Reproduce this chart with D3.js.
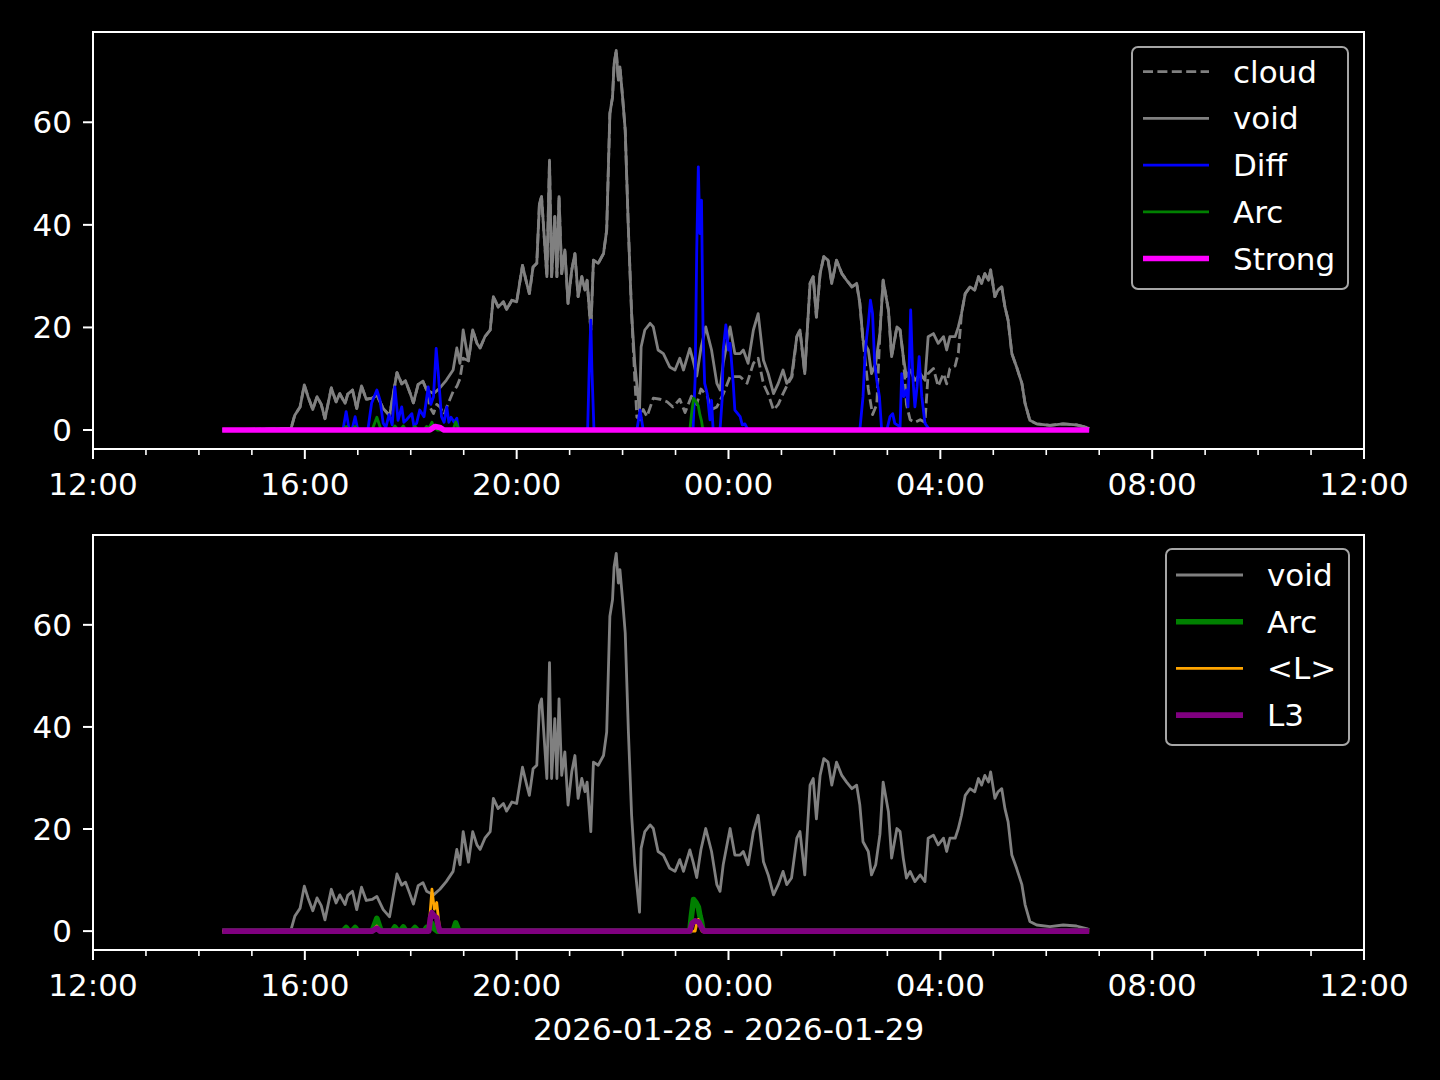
<!DOCTYPE html>
<html><head><meta charset="utf-8">
<script src="https://cdn.jsdelivr.net/npm/d3@7"></script>
<style>html,body{margin:0;padding:0;background:#000;} svg{display:block;}</style>
</head><body>
<svg id="chart" width="1440" height="1080"></svg>
<script>
// time in hours after 00:00 on 2026-01-28 (values > 24 are on 2026-01-29)
const voidT = [14.44,15.74,15.81,15.91,15.99,16.06,16.15,16.23,16.31,16.38,16.50,16.59,16.66,16.76,16.81,16.90,16.98,17.07,17.16,17.27,17.36,17.48,17.60,17.74,17.83,17.90,17.99,18.05,18.14,18.23,18.30,18.43,18.55,18.67,18.80,18.87,18.93,18.99,19.09,19.17,19.25,19.31,19.40,19.50,19.56,19.65,19.75,19.81,19.91,20.00,20.11,20.19,20.24,20.31,20.38,20.43,20.47,20.52,20.57,20.62,20.66,20.72,20.76,20.80,20.85,20.91,20.97,21.04,21.10,21.16,21.23,21.29,21.33,21.40,21.45,21.54,21.64,21.70,21.76,21.81,21.84,21.88,21.92,21.95,22.00,22.05,22.11,22.17,22.23,22.32,22.35,22.42,22.52,22.58,22.67,22.77,22.89,22.99,23.08,23.15,23.27,23.34,23.40,23.48,23.57,23.68,23.78,23.84,23.90,24.03,24.12,24.22,24.28,24.37,24.47,24.56,24.66,24.75,24.85,24.94,25.03,25.10,25.19,25.29,25.35,25.44,25.54,25.60,25.66,25.73,25.80,25.88,25.95,26.04,26.14,26.23,26.33,26.42,26.48,26.54,26.64,26.70,26.78,26.86,26.92,27.02,27.08,27.18,27.24,27.30,27.36,27.43,27.52,27.62,27.71,27.77,27.87,27.96,28.06,28.12,28.18,28.28,28.34,28.40,28.47,28.56,28.65,28.72,28.78,28.84,28.91,28.95,29.03,29.09,29.16,29.22,29.28,29.35,29.44,29.54,29.60,29.69,29.82,30.07,30.32,30.57,30.76,30.81];
const voidV = [0,0.3,2.9,4.5,8.8,6.5,4.0,6.5,5.0,2.2,8.2,5.5,7.1,5.2,7.0,7.8,4.2,8.6,6.0,6.2,6.8,4.2,2.8,11.2,9.0,9.6,7.1,5.3,8.9,9.5,7.8,7.1,8.2,9.7,11.7,16.0,13.0,19.5,13.5,19.5,16.9,16.0,18.2,19.5,26,24,25,23.5,25.3,25,32.1,28.6,26.6,31.8,32.5,44.2,45.5,37.7,29.9,52.6,29.9,41.6,29.9,45.5,30.5,35.1,24.7,31.2,34.4,26,29.9,27.3,29.2,19.5,33.1,32.5,34.4,39,61.7,64.9,71.4,74,68.2,70.8,64.9,58.4,39,22.8,13,3.7,16.2,19.5,20.8,20.1,15.6,14.9,12.3,11.7,14,11.7,15.9,13.2,10.5,16,20.1,15.6,9.1,7.8,13,20.1,14.9,14.9,15.6,13,19.5,22.7,13.6,11,7.1,9.1,11.7,9.1,10.4,18.2,19.5,11,28.6,29.9,22,30.5,33.8,33.1,28.6,33.1,30.5,29.2,27.9,28.6,24.7,17.5,15.6,11,13,19,29.2,23.4,14.3,20.1,19.5,14.3,10.4,11.7,9.7,11,9.7,18.2,18.8,16.9,18.2,15.6,18.2,18.2,20.1,22.7,26.6,27.9,27.3,29.9,28.6,30.5,29.2,31.2,26,27.3,27.9,24,21.4,14.9,12.3,9.1,5.2,1.9,1.2,0.9,1.2,1.0,0.5,0.3];

const cloudT = [14.44,15.74,15.81,15.91,15.99,16.06,16.15,16.23,16.31,16.38,16.50,16.59,16.66,16.76,16.81,16.90,16.98,17.07,17.16,17.27,17.36,17.48,17.60,17.74,17.83,17.90,17.99,18.05,18.14,18.23,18.30,18.36,18.43,18.49,18.55,18.63,18.68,18.74,18.80,18.87,18.93,18.99,19.09,19.17,19.25,19.31,19.40,19.50,19.56,19.65,19.75,19.81,19.91,20.00,20.11,20.19,20.24,20.31,20.38,20.43,20.47,20.52,20.57,20.62,20.66,20.72,20.76,20.80,20.85,20.91,20.97,21.04,21.10,21.16,21.23,21.29,21.33,21.40,21.45,21.54,21.64,21.70,21.76,21.81,21.84,21.88,21.92,21.95,22.00,22.05,22.11,22.17,22.23,22.27,22.33,22.39,22.46,22.58,22.71,22.84,22.95,23.08,23.18,23.30,23.40,23.48,23.60,23.68,23.78,23.90,24.03,24.22,24.35,24.47,24.56,24.66,24.75,24.85,24.94,25.03,25.12,25.20,25.29,25.35,25.44,25.54,25.60,25.66,25.73,25.80,25.88,25.95,26.04,26.14,26.23,26.33,26.42,26.48,26.54,26.64,26.72,26.80,26.86,26.92,27.02,27.08,27.18,27.24,27.30,27.36,27.43,27.52,27.62,27.71,27.77,27.87,27.96,28.06,28.12,28.18,28.28,28.34,28.40,28.47,28.56,28.65,28.72,28.78,28.84,28.91,28.95,29.03,29.09,29.16,29.22,29.28,29.35,29.44,29.54,29.60,29.69,29.82,30.07,30.32,30.57,30.76,30.81];
const cloudV = [0,0.3,2.9,4.5,8.8,6.5,4.0,6.5,5.0,2.2,8.2,5.5,7.1,5.2,7.0,7.8,4.2,8.6,6.0,6.2,6.8,4.2,2.8,11.2,9.0,9.6,7.1,5.3,8.9,9.5,7.8,4.5,3.2,5.0,4.5,3.0,4.5,6.0,7.5,8.5,10.0,14,13.5,19.5,16.9,16.0,18.2,19.5,26,24,25,23.5,25.3,25,32.1,28.6,26.6,31.8,32.5,44.2,45.5,37.7,29.9,52.6,29.9,41.6,29.9,45.5,30.5,35.1,24.7,31.2,34.4,26,29.9,27.3,29.2,19.5,33.1,32.5,34.4,39,61.7,64.9,71.4,74,68.2,70.8,64.9,58.4,39,22.8,10,2.5,2.0,4.0,2.6,6.2,6.0,5.5,4.5,6.0,3.4,6.6,5,8,6.6,4,4.5,7,10.4,10.4,9.1,13,14,9,7,3.9,5,7.1,9,10.4,18.2,19.5,11,28.6,29.9,22,30.5,33.8,33.1,28.6,33.1,30.5,29.2,27.9,28.6,24.7,17.5,8,3,5,19,29.2,23.4,14.3,20.1,19.5,14.3,5,2,1.5,2,1.5,11,12,8.5,11,9,12,12.5,15,22.7,26.6,27.9,27.3,29.9,28.6,30.5,29.2,31.2,26,27.3,27.9,24,21.4,14.9,12.3,9.1,5.2,1.9,1.2,0.9,1.2,1.0,0.5,0.3];

const diffT = [14.44,16.72,16.78,16.83,16.89,16.95,17.00,17.19,17.26,17.36,17.42,17.48,17.53,17.59,17.65,17.70,17.76,17.83,17.87,17.92,18.02,18.06,18.11,18.17,18.25,18.33,18.38,18.43,18.48,18.52,18.58,18.63,18.68,18.72,18.76,18.82,18.87,18.90,21.34,21.37,21.40,21.42,21.46,22.27,22.33,22.39,23.33,23.37,23.40,23.43,23.46,23.49,23.52,23.55,23.60,23.65,23.68,23.71,23.84,23.88,23.90,23.95,24.00,24.03,24.09,24.12,24.22,24.26,24.31,24.37,26.48,26.54,26.58,26.61,26.64,26.68,26.72,26.76,26.80,26.85,26.89,26.99,27.05,27.10,27.14,27.24,27.27,27.31,27.36,27.39,27.44,27.48,27.52,27.56,27.60,27.65,27.71,27.80,30.81];
const diffV = [0,0,3.6,0.5,0,2.6,0,0,5.2,7.8,5.8,1.3,0.5,3.0,1.0,8.4,1.9,4.5,1.5,2.0,3.2,0.8,1.3,3.9,2.6,8.4,5.0,6.5,15.9,11.0,2.6,1.5,4.5,1.5,2.5,1.5,2.3,0,0,12,21.4,12,0,0,3.9,0,0,10,35,51.3,38.3,44.8,18.8,9.1,7.0,2.0,5.8,0,0,6,15.6,20.5,15.6,16.9,9.0,3.9,2.6,1.0,1.2,0,0,6.5,14.9,18.2,20.8,25.3,22.7,13,9.7,6.5,0.3,0,2.6,3.2,1.3,0.6,11,6.5,7.8,4.5,23.4,10.4,4.5,8.4,14.3,6.5,1.3,0,0];

const arcT = [14.44,16.72,16.78,16.83,16.89,16.95,17.00,17.27,17.36,17.44,17.65,17.70,17.76,17.80,17.86,17.91,18.02,18.08,18.14,18.25,18.30,18.34,18.40,18.44,18.50,18.80,18.85,18.91,23.27,23.30,23.34,23.39,23.43,23.46,23.49,23.51,23.55,30.81];
const arcV = [0,0,0.7,0,0,0.7,0,0,2.5,0,0,0.8,0,0,0.8,0,0,0.7,0,0,0.7,0.3,1.5,0.5,0,0,1.6,0,0,3.0,6.2,5.5,4.7,3.0,1.8,0.5,0,0];

const lT = [14.44,17.27,17.36,17.42,18.34,18.40,18.445,18.49,18.55,23.37,23.40,23.43,23.46,23.50,30.81];
const lV = [0,0,1.0,0,0,8.2,4.3,5.6,0,0,1.5,2.3,1.0,0,0];

const l3T = [14.44,17.27,17.36,17.42,18.34,18.37,18.40,18.44,18.49,18.52,18.55,23.27,23.31,23.37,23.44,23.50,23.54,30.81];
const l3V = [0,0,0.6,0,0,2.5,3.6,3.0,2.6,1.0,0,0,1.5,2.0,1.8,0.5,0,0];

const strongT = [14.44,18.36,18.46,18.55,18.63,30.81];
const strongV = [0,0,0.7,0.5,0,0];

const xTicks = [12,16,20,24,28,32,36];
const xTickLabels = ["12:00","16:00","20:00","00:00","04:00","08:00","12:00"];
const yTicks = [0,20,40,60];
const xLabel = "2026-01-28 - 2026-01-29";

const FONT = "'DejaVu Sans', sans-serif";
const FS = 31;
const svg = d3.select("#chart");
svg.append("rect").attr("width",1440).attr("height",1080).attr("fill","#000");

const L = 93, R = 1364;
const x = d3.scaleLinear().domain([12,36]).range([L,R]);
const minorTicks = d3.range(12,37,1).filter(h => !xTicks.includes(h));

function pts(T,V){ return T.map((t,i)=>[t,V[i]]); }

function panel(top, bottom, series, legendItems, legendBox){
  const y = d3.scaleLinear().domain([-3.7,77.6]).range([bottom, top]);
  const g = svg.append("g");
  const line = d3.line().x(d=>x(d[0])).y(d=>y(d[1]));
  series.forEach(s=>{
    g.append("path").attr("d", line(pts(s.T,s.V)))
      .attr("fill","none").attr("stroke",s.color).attr("stroke-width",s.w)
      .attr("stroke-linejoin","round")
      .attr("stroke-dasharray", s.dash||null);
  });
  g.append("rect").attr("x",L).attr("y",top).attr("width",R-L).attr("height",bottom-top)
    .attr("fill","none").attr("stroke","#fff").attr("stroke-width",2);
  xTicks.forEach((t,i)=>{
    g.append("line").attr("x1",x(t)).attr("x2",x(t)).attr("y1",bottom).attr("y2",bottom+10)
      .attr("stroke","#fff").attr("stroke-width",2);
    g.append("text").attr("x",x(t)).attr("y",bottom+46).attr("text-anchor","middle")
      .attr("fill","#fff").attr("font-family",FONT).attr("font-size",FS).text(xTickLabels[i]);
  });
  minorTicks.forEach(t=>{
    g.append("line").attr("x1",x(t)).attr("x2",x(t)).attr("y1",bottom).attr("y2",bottom+6)
      .attr("stroke","#fff").attr("stroke-width",1.6);
  });
  yTicks.forEach(v=>{
    g.append("line").attr("x1",L-10).attr("x2",L).attr("y1",y(v)).attr("y2",y(v))
      .attr("stroke","#fff").attr("stroke-width",2);
    g.append("text").attr("x",L-21).attr("y",y(v)+11).attr("text-anchor","end")
      .attr("fill","#fff").attr("font-family",FONT).attr("font-size",FS).text(v);
  });
  const lb = legendBox;
  g.append("rect").attr("x",lb.x).attr("y",lb.y).attr("width",lb.w).attr("height",lb.h)
    .attr("rx",6).attr("ry",6).attr("fill","rgba(0,0,0,0.8)").attr("stroke","#a6a6a6").attr("stroke-width",2);
  legendItems.forEach((it,i)=>{
    const cy = lb.firstRow + i*lb.step;
    g.append("line").attr("x1",lb.lineX1).attr("x2",lb.lineX2).attr("y1",cy).attr("y2",cy)
      .attr("stroke",it.color).attr("stroke-width",it.w).attr("stroke-dasharray",it.dash||null);
    g.append("text").attr("x",lb.textX).attr("y",cy+11).attr("fill","#fff")
      .attr("font-family",FONT).attr("font-size",FS).text(it.name);
  });
}

const topSeries = [
  {name:"cloud", T:cloudT, V:cloudV, color:"#808080", w:2.8, dash:"10,4.4"},
  {name:"void", T:voidT, V:voidV, color:"#808080", w:2.8},
  {name:"Diff", T:diffT, V:diffV, color:"#0000ff", w:2.8},
  {name:"Arc", T:arcT, V:arcV, color:"#008000", w:2.8},
  {name:"Strong", T:strongT, V:strongV, color:"#ff00ff", w:5.6}
];
panel(32, 449, topSeries, topSeries,
  {x:1132,y:47,w:216,h:242,firstRow:71.7,step:46.7,lineX1:1143,lineX2:1209,textX:1233});

const botSeries = [
  {name:"void", T:voidT, V:voidV, color:"#808080", w:2.8},
  {name:"Arc", T:arcT, V:arcV, color:"#008000", w:5.6},
  {name:"<L>", T:lT, V:lV, color:"#ffa500", w:2.8},
  {name:"L3", T:l3T, V:l3V, color:"#800080", w:5.6}
];
panel(535, 950, botSeries, botSeries,
  {x:1166,y:549,w:183,h:196,firstRow:575,step:46.7,lineX1:1176,lineX2:1243,textX:1267});

svg.append("text").attr("x",(L+R)/2).attr("y",1040).attr("text-anchor","middle")
  .attr("fill","#fff").attr("font-family",FONT).attr("font-size",FS).text(xLabel);
</script>
</body></html>
